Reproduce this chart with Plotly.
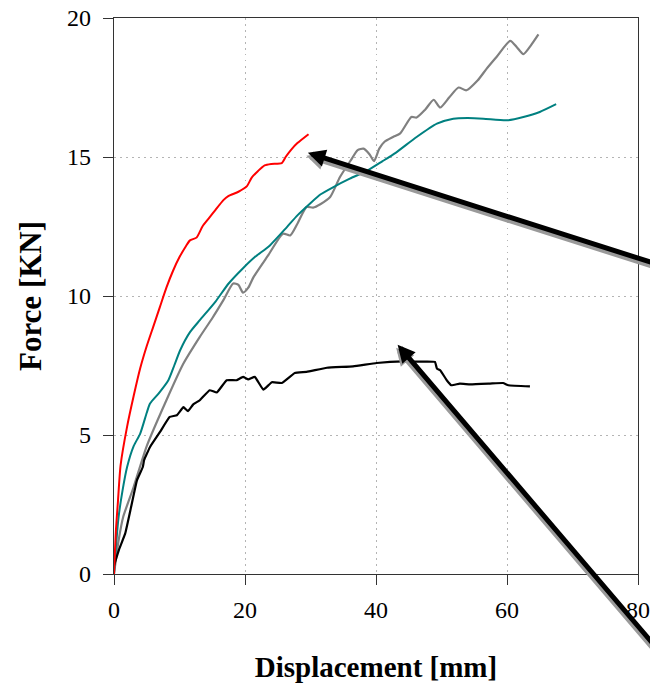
import plotly.graph_objects as go

# ---------------- data ----------------
red_x = [0, 0.3, 0.6, 1, 2, 3, 4, 5, 6, 7, 8, 9, 10, 11, 11.6, 12.6, 13.5, 14.5,
         15.5, 16.7, 17.5, 19, 20.3, 21, 22, 23, 24, 25.6, 26.2, 27, 28, 29.7]
red_y = [0, 1.6, 2.6, 3.9, 5.3, 6.4, 7.4, 8.2, 8.9, 9.6, 10.3, 10.9, 11.4, 11.8, 12.0,
         12.1, 12.5, 12.8, 13.1, 13.45, 13.6, 13.75, 13.95, 14.25, 14.5, 14.7, 14.75,
         14.78, 15.0, 15.25, 15.5, 15.82]

teal_x = [0, 0.3, 0.7, 1.3, 2, 3, 4, 5, 5.5, 6.8, 8.3, 9.2, 10.1, 11.6, 13.1, 15.5,
          17.5, 19.7, 21.5, 23.8, 26.4, 28, 29.9, 31.5, 33.5, 36, 38.6, 41, 43, 46.2,
          49.3, 51.8, 54, 56.4, 60, 62.5, 65, 67.5]
teal_y = [0, 1.0, 2.05, 3.0, 3.85, 4.6, 5.05, 5.8, 6.13, 6.49, 6.97, 7.5, 8.05, 8.7,
          9.13, 9.8, 10.45, 11.0, 11.4, 11.82, 12.48, 12.9, 13.32, 13.65, 13.92, 14.22,
          14.5, 14.85, 15.15, 15.72, 16.2, 16.38, 16.4, 16.38, 16.32, 16.44, 16.62, 16.9]

gray_x = [0, 0.7, 1.4, 3, 5, 8, 10.6, 13.1, 15, 16.7, 18.2, 19.0, 19.7, 20.5, 21.3,
          23.5, 25.8, 26.9, 28, 29.4, 30.4, 31.5, 33, 34.5, 36.2, 37.2, 38.1, 39, 39.7,
          40.5, 41.3, 42.6, 43.7, 45.4, 46.2, 47.5, 48.8, 49.8, 51.2, 52.6, 53.8, 55.5,
          56.9, 58.4, 60.5, 61.5, 62.5, 63.6, 64.8]
gray_y = [0, 1.2, 2.05, 3.13, 4.6, 6.25, 7.57, 8.53, 9.2, 9.85, 10.45, 10.4, 10.12,
          10.3, 10.68, 11.45, 12.24, 12.18, 12.6, 13.2, 13.18, 13.3, 13.56, 14.28, 14.9,
          15.25, 15.3, 15.1, 14.85, 15.3, 15.55, 15.72, 15.85, 16.44, 16.42, 16.7, 17.06,
          16.78, 17.15, 17.5, 17.4, 17.75, 18.18, 18.6, 19.18, 18.95, 18.7, 19.0, 19.41]

black_x = [0, 0.8, 1.7, 2.6, 3.5, 4.4, 4.6, 5.5, 7.0, 8.5, 9.6, 10.6, 11.3, 12.1, 13.1,
           14.6, 15.7, 17.2, 18.7, 19.7, 20.5, 21.5, 22.8, 24.1, 25.6, 27.6, 29.4, 32.5,
           36.5, 40.1, 44.2, 47, 49.0, 49.3, 49.8, 50.8, 51.5, 52.8, 54.4, 57.4, 59.4,
           60.2, 63.5]
black_y = [0.3, 0.9, 1.45, 2.4, 3.37, 3.85, 4.1, 4.57, 5.1, 5.65, 5.71, 6.0, 5.86, 6.1,
           6.25, 6.61, 6.53, 6.97, 6.97, 7.09, 7.0, 7.09, 6.63, 6.9, 6.87, 7.23, 7.27,
           7.42, 7.47, 7.59, 7.65, 7.64, 7.63, 7.39, 7.33, 6.97, 6.79, 6.85, 6.82, 6.85,
           6.87, 6.79, 6.75]

x_ticks = [0, 20, 40, 60, 80]
y_ticks = [0, 5, 10, 15, 20]
x_title = "Displacement [mm]"
y_title = "Force [KN]"

# arrows: head and tail in data coordinates (tails lie beyond the plotted range)
arrow_heads = [(29.6, 15.15), (43.3, 8.25)]
arrow_tails = [(89.5, 10.65), (89.5, -4.5)]

FONT = "Liberation Serif, Times New Roman, serif"

fig = go.Figure()
fig.add_trace(go.Scatter(x=gray_x, y=gray_y, mode="lines",
                         line=dict(color="#808080", width=2.2, shape="spline", smoothing=0.6)))
fig.add_trace(go.Scatter(x=teal_x, y=teal_y, mode="lines",
                         line=dict(color="#008080", width=2, shape="spline", smoothing=0.6)))
fig.add_trace(go.Scatter(x=black_x, y=black_y, mode="lines",
                         line=dict(color="#000000", width=2.2, shape="spline", smoothing=0.3)))
fig.add_trace(go.Scatter(x=red_x, y=red_y, mode="lines",
                         line=dict(color="#ff0000", width=2, shape="spline", smoothing=0.6)))

for (hx, hy), (tx, ty) in zip(arrow_heads, arrow_tails):
    # shadow
    fig.add_annotation(x=hx, y=hy, xref="x", yref="y", ax=tx, ay=ty, axref="x",
                       ayref="y", text="", showarrow=True, arrowhead=2, arrowsize=0.7,
                       arrowwidth=5, arrowcolor="#9a9a9a", xshift=-1.5, yshift=-3)
    fig.add_annotation(x=hx, y=hy, xref="x", yref="y", ax=tx, ay=ty, axref="x",
                       ayref="y", text="", showarrow=True, arrowhead=2, arrowsize=0.7,
                       arrowwidth=5, arrowcolor="#000000")

axis_common = dict(
    showline=True, linecolor="#333333", linewidth=1.3, mirror=True,
    ticks="outside", ticklen=10, tickwidth=1.3, tickcolor="#333333",
    showgrid=True, gridcolor="#b4b4b4", griddash="1.5px,4.5px", gridwidth=1.3,
    zeroline=False, tickfont=dict(family=FONT, size=24, color="black"),
)

fig.update_xaxes(range=[0, 80], tickvals=x_ticks, ticktext=[str(v) for v in x_ticks],
                 ticklabelstandoff=4,
                 title=dict(text="<b>%s</b>" % x_title,
                            font=dict(family=FONT, size=29, color="black"), standoff=34),
                 **axis_common)
fig.update_yaxes(range=[0, 20], tickvals=y_ticks, ticktext=[str(v) for v in y_ticks],
                 ticklabelstandoff=7,
                 title=dict(text="<b>%s</b>" % y_title,
                            font=dict(family=FONT, size=31, color="black"), standoff=16),
                 **axis_common)

fig.update_layout(
    width=650, height=685,
    margin=dict(l=114, r=12, t=18, b=111, autoexpand=False),
    paper_bgcolor="white", plot_bgcolor="white",
    showlegend=False,
)

fig.write_html("out.html", config={"displayModeBar": False},
               post_script="document.body.style.margin='0px';document.body.style.overflow='hidden';")
